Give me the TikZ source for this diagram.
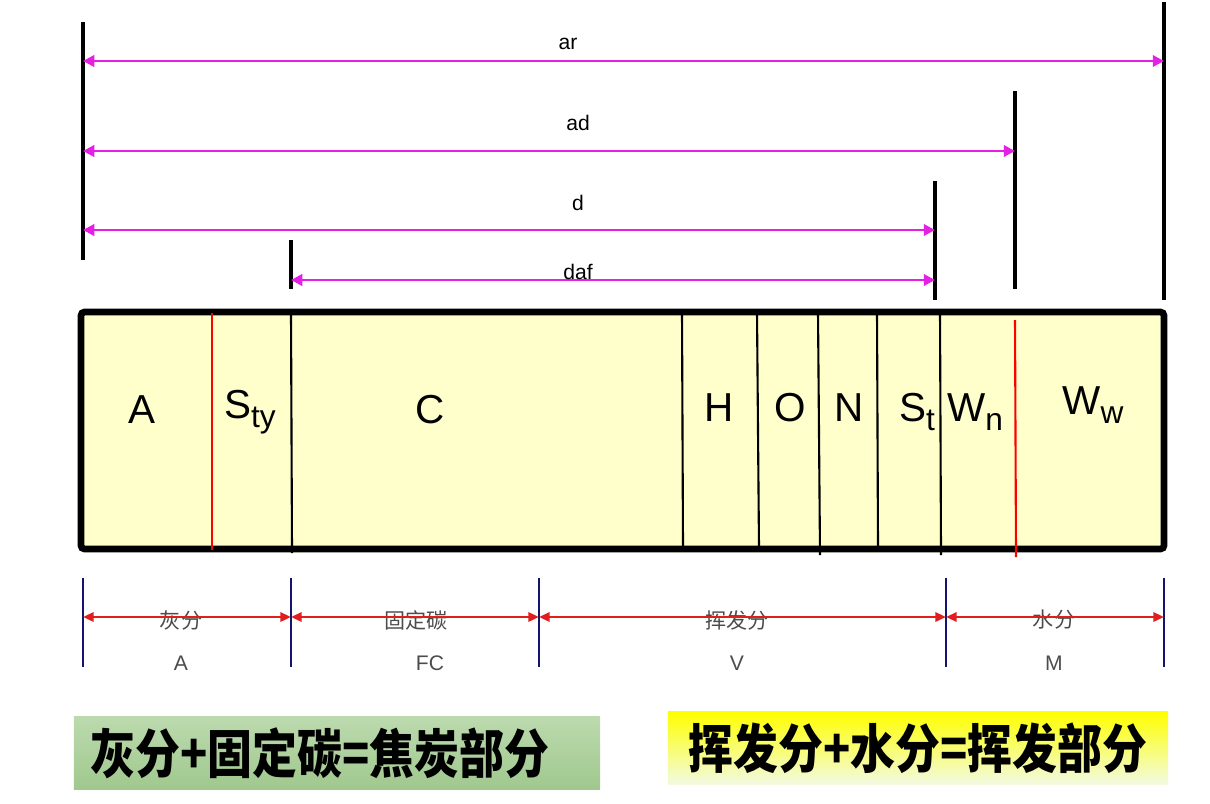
\documentclass[tikz,border=0pt]{standalone}
\usepackage{fontspec}
\setmainfont{Liberation Sans}
\newfontfamily\cjk{Noto Sans CJK SC}
\usetikzlibrary{arrows.meta}
\definecolor{dimpink}{RGB}{228,32,228}
\definecolor{coalfill}{RGB}{255,255,204}
\definecolor{partnavy}{RGB}{20,20,110}
\definecolor{partred}{RGB}{225,30,30}
\newcommand\elsub[1]{\raisebox{-2.6pt}{\fontsize{9}{10}\selectfont #1}}
\begin{document}
\begin{tikzpicture}[
      x=0.01cm, y=-0.01cm,
      bar/.style={line width=0.9pt, black},
      dim/.style={dimpink, line width=0.8pt,
                  {Triangle[length=3.2pt,width=3.2pt]}-{Triangle[length=3.2pt,width=3.2pt]}},
      dimtxt/.style={font=\fontsize{6}{7}\selectfont, text=black, inner sep=1pt},
      cut/.style={line width=0.6pt},
      elem/.style={font=\fontsize{11.5}{14}\selectfont, inner sep=0pt},
      partbar/.style={partnavy, line width=0.7pt},
      part/.style={partred, line width=0.7pt,
                   {Triangle[length=3pt,width=2.6pt]}-{Triangle[length=3pt,width=2.6pt]}},
      parttxt/.style={font=\fontsize{6}{7}\selectfont, text=black!70, inner sep=0pt},
      sumbox/.style={minimum height=0.72cm, inner sep=0pt,
                     font=\cjk\bfseries\fontsize{15}{17}\selectfont}
    ]
      \useasboundingbox (0,0) rectangle (1210,803);

      % top dimension lines
      \foreach \nm/\x/\ya/\yb in {lft/83/22/260, daf/291/240/289, d/935/181/300,
                                  ad/1015/91/289, ar/1164/2/300} {
        \coordinate (\nm-top) at (\x,\ya);
        \coordinate (\nm-bot) at (\x,\yb);
        \draw[bar] (\nm-top) -- (\nm-bot);
      }
      \foreach \nm/\xa/\xb/\y in {ar/83/1164/61, ad/83/1015/151, d/83/935/230, daf/291/935/280} {
        \coordinate (\nm-l) at (\xa,\y);
        \coordinate (\nm-r) at (\xb,\y);
        \draw[dim] (\nm-l) -- (\nm-r);
      }
      \node[dimtxt] (ar-lbl)  at (568,44)  {ar};
      \node[dimtxt] (ad-lbl)  at (578,123) {ad};
      \node[dimtxt] (d-lbl)   at (578,203) {d};
      \node[dimtxt] (daf-lbl) at (578,272) {daf};

      % coal composition bar
      \draw[line width=1.9pt, fill=coalfill, rounded corners=1pt] (81,312) rectangle (1164,549);
      \foreach \xa/\xb/\yb in {291/292/553, 682/683/549, 757/759/549,
                               818/820/555, 877/878/549, 940/941/555} {
        \draw[cut] (\xa,313) -- (\xb,\yb);
      }
      \draw[cut, red] (212,313) -- (212,550);
      \draw[cut, red] (1015,320) -- (1016,557);
      \foreach \nm/\x/\y/\t in {a/142/410/A, sty/250/412/{S\elsub{ty}}, c/430/410/C,
                                h/719/408/H, o/790/408/O, n/849/408/N, st/917/412/{S\elsub{t}},
                                wn/975/412/{W\elsub{n}}, ww/1093/405/{W\elsub{w}}} {
        \node[elem] (\nm) at (\x,\y) {\t};
      }

      % analysis parts
      \foreach \nm/\x in {b0/83, b1/291, b2/539, b3/946, b4/1164} {
        \coordinate (\nm-top) at (\x,578);
        \coordinate (\nm-bot) at (\x,667);
        \coordinate (\nm) at (\x,617);
        \draw[partbar] (\nm-top) -- (\nm-bot);
      }
      \node[parttxt] (ash)  at (181,620)  {\cjk 灰分};
      \node[parttxt] (fc)   at (416,620)  {\cjk 固定碳};
      \node[parttxt] (vol)  at (737,620)  {\cjk 挥发分};
      \node[parttxt] (mst)  at (1054,620) {\cjk 水分};
      \node[parttxt] (ash-s) at (181,663)  {A};
      \node[parttxt] (fc-s)  at (430,663)  {FC};
      \node[parttxt] (vol-s) at (737,663)  {V};
      \node[parttxt] (mst-s) at (1054,663) {M};
      \draw[part] (b0) -- (b1);
      \draw[part] (b1) -- (b2);
      \draw[part] (b2) -- (b3);
      \draw[part] (b3) -- (b4);

      % summary boxes
      \node[sumbox, minimum width=5.26cm, top color={rgb,255:red,188;green,218;blue,174},
            bottom color={rgb,255:red,160;green,200;blue,142}] (coke) at (337,753)
            {\hspace*{-0.34cm}\scalebox{0.85}[1]{灰分+固定碳=焦炭部分}};
      \node[sumbox, minimum width=5.0cm, top color=yellow, middle color=yellow,
            bottom color={rgb,255:red,242;green,250;blue,225}] (volatile) at (918,748)
            {\scalebox{0.85}[1]{挥发分+水分=挥发部分}};
    \end{tikzpicture}
\end{document}
